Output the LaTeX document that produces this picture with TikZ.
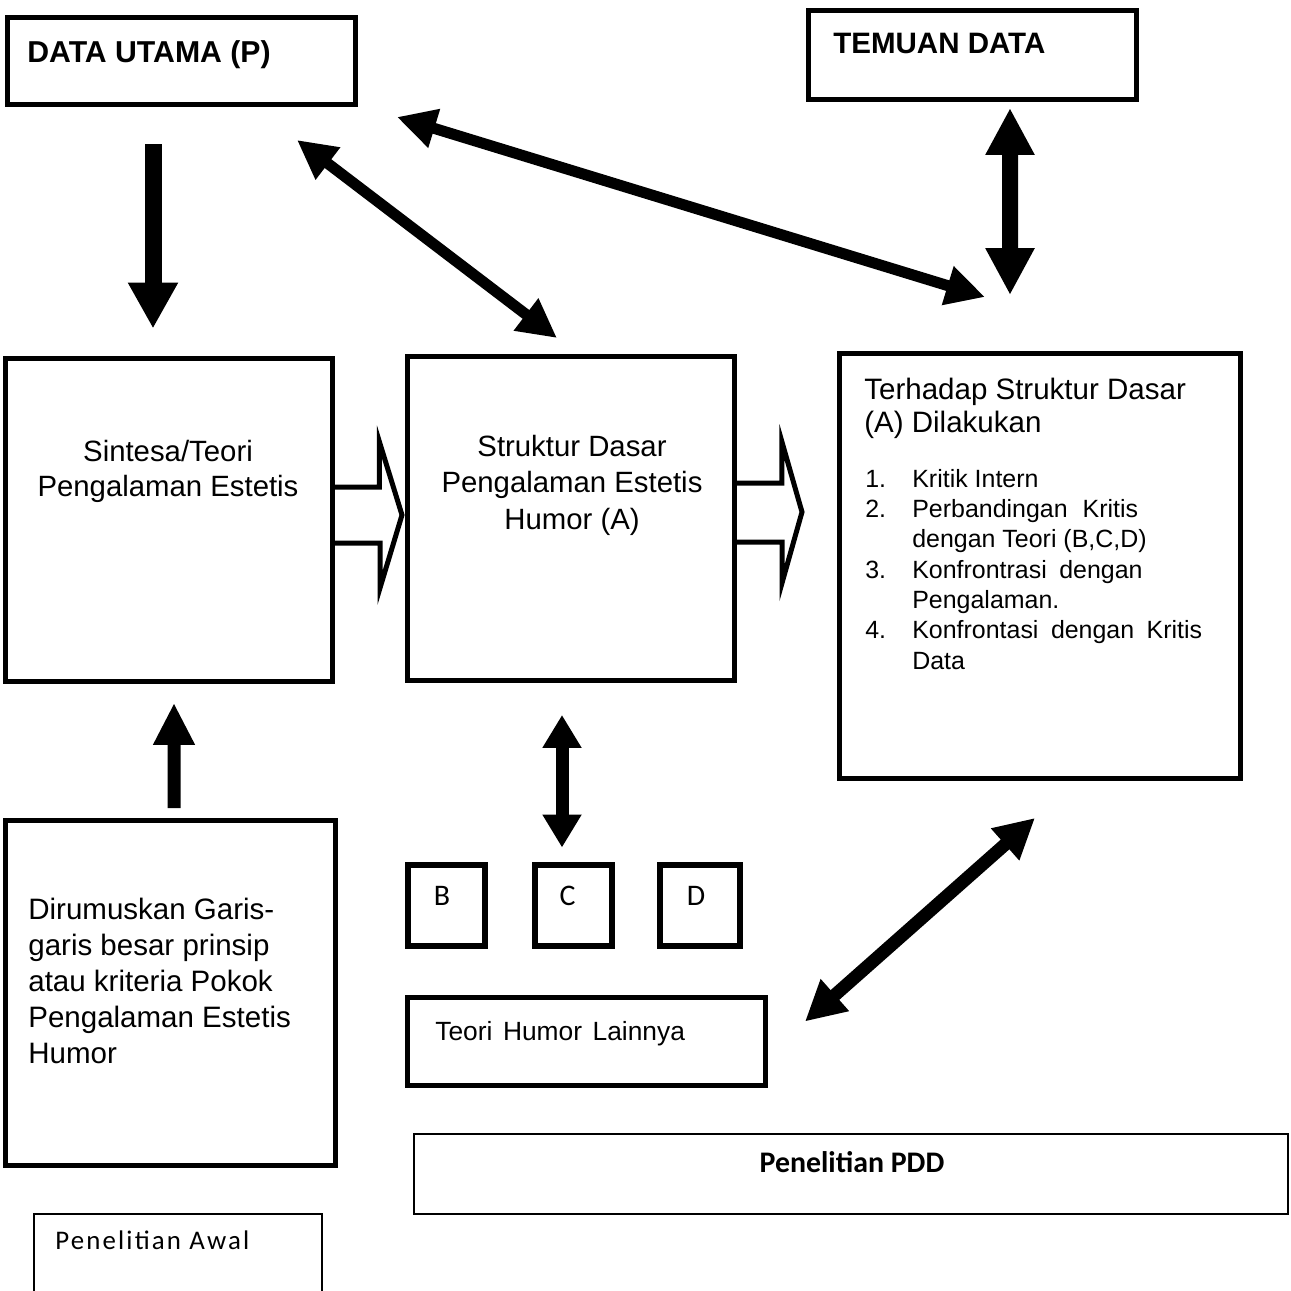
\documentclass[tikz,border=0pt]{standalone}
\usepackage{fontspec}
\setmainfont{Liberation Sans}
\newfontfamily\calib{Carlito}
\newfontfamily\calibwide[LetterSpace=8]{Carlito}
\usetikzlibrary{arrows.meta,calc}

\begin{document}
\begin{tikzpicture}[
  x=0.02cm, y=-0.02cm,
  box/.style={draw,line width=0.1cm,inner sep=0pt,outer sep=0pt},
  thinbox/.style={draw,line width=0.04cm,inner sep=0pt,outer sep=0pt},
  txt/.style={inner sep=0pt,font=\fontsize{16.7}{19.8}\selectfont},
  lbl/.style={inner sep=0pt,font=\calib\fontsize{17}{20}\selectfont},
  arr/.style n args={3}{line width=#1,-{Triangle[length=#2,width=#3]}},
  darr/.style n args={3}{line width=#1,{Triangle[length=#2,width=#3]}-{Triangle[length=#2,width=#3]}},
  hollow/.style={draw,line width=0.1cm,line join=miter}
]
\useasboundingbox (0,0) rectangle (1291,1291);
\fill[white] (0,0) rectangle (1291,1291);
\clip (0,0) rectangle (1291,1291);

% ---------- boxes
\node[box,minimum width=6.96cm,minimum height=1.74cm] (data) at (181.5,61) {};
\node[box,minimum width=6.56cm,minimum height=1.78cm] (temuan) at (972.5,55) {};
\node[box,minimum width=6.54cm,minimum height=6.46cm] (sint) at (169,520) {};
\node[box,minimum width=6.54cm,minimum height=6.48cm] (strk) at (571,518.5) {};
\node[box,minimum width=8.02cm,minimum height=8.5cm] (krit) at (1040,566) {};
\node[box,minimum width=6.6cm,minimum height=6.9cm] (rumus) at (170.5,993) {};
\node[box,minimum width=7.16cm,minimum height=1.76cm] (teori) at (586.5,1041.5) {};
\node[thinbox,minimum width=17.48cm,minimum height=1.6cm] (pdd) at (851,1174) {};
\node[thinbox,minimum width=5.76cm,minimum height=2.52cm] (awal) at (178,1277) {};
\foreach \nm/\x/\lx/\w in {B/446.5/442/1.54cm, C/573.5/567.5/1.54cm, D/700/696/1.6cm}{
  \node[box,line width=0.12cm,minimum width=\w,minimum height=1.62cm] (\nm) at (\x,905.5) {};
  \node[lbl,anchor=base] (l\nm) at (\lx,905) {\nm};
}

% ---------- texts
\node[txt,anchor=base west,font=\bfseries\fontsize{17.2}{20}\selectfont] (datat) at (27,63) {DATA UTAMA (P)};
\node[txt,anchor=base west,font=\bfseries\fontsize{16.8}{20}\selectfont] (temuant) at (833,54) {TEMUAN DATA};
\node[txt,anchor=north,align=center] (sintt) at (168,440) {Sintesa/Teori\\Pengalaman Estetis};
\node[txt,anchor=north,align=center,font=\fontsize{16.7}{20.7}\selectfont] (strkt) at (572,435)
  {Struktur Dasar\\Pengalaman Estetis\\Humor (A)};
\node[txt,anchor=north west,align=left,font=\fontsize{16.8}{18.7}\selectfont] (kritt) at (864,378)
  {Terhadap Struktur Dasar\\(A) Dilakukan};
\node[inner sep=0pt,anchor=base west,font=\fontsize{14.2}{17.3}\selectfont] (list) at (865,487) {%
  \begin{tabular}[t]{@{}p{0.94cm}@{}l@{}}
  1. & Kritik Intern\\
  2. & Perbandingan\hspace{0.6em}Kritis\\
     & dengan Teori (B,C,D)\\
  3. & Konfrontrasi\hspace{0.5em}dengan\\
     & Pengalaman.\\
  4. & Konfrontasi\hspace{0.5em}dengan\hspace{0.5em}Kritis\\
     & Data
  \end{tabular}};
\node[txt,anchor=north west,align=left,font=\fontsize{16.8}{20.4}\selectfont] (rumust) at (28,898)
  {Dirumuskan Garis-\\garis besar prinsip\\atau kriteria Pokok\\Pengalaman Estetis\\Humor};
\node[txt,anchor=base west,font=\fontsize{15}{18}\selectfont] (teorit) at (435,1040)
  {Teori\hspace{0.4em}Humor\hspace{0.4em}Lainnya};
\node[lbl,anchor=base,font=\calib\bfseries\fontsize{17}{20}\selectfont] (pddt) at (852,1172) {Penelitian PDD};
\node[lbl,anchor=base west,font=\calibwide\fontsize{15.3}{18}\selectfont] (awalt) at (55,1249) {Penelitian Awal};

% ---------- solid arrows
\draw[arr={0.34cm}{0.92cm}{0.94cm}] ($(data.south)+(-28.5,40)$) -- ($(sint.north)+(-16,-30)$);
\draw[darr={0.32cm}{0.94cm}{0.92cm}] ($(temuan.south)+(37.5,8.5)$) -- ($(krit.north)+(-30,-58.5)$);
\draw[darr={0.22cm}{0.78cm}{0.76cm}] ($(data.south east)+(-58.5,35.5)$) -- ($(strk.north)+(-14,-18.5)$);
\draw[darr={0.22cm}{0.78cm}{0.76cm}] ($(data.south east)+(41.5,12.5)$) -- ($(krit.north)+(-55,-56.5)$);
\draw[arr={0.26cm}{0.84cm}{0.78cm}] ($(rumus.north)+(3.5,-12.5)$) -- ($(sint.south)+(5,21.5)$);
\draw[darr={0.26cm}{0.66cm}{0.74cm}] ($(strk.south)+(-9,34.5)$) -- ($(C.north)+(-11.5,-17.5)$);
\draw[darr={0.26cm}{0.8cm}{0.8cm}] ($(krit.south)+(-5,39.5)$) -- ($(teori.east)+(39.5,-20)$);

% ---------- hollow arrows
\coordinate (tipa) at (402,515);
\coordinate (tipb) at (802,512);
\draw[hollow] ($(sint.east)+(0,-33)$) -- ++(47,0) -- ++(0,-45) -- (tipa) -- ++(-22,73) -- ++(0,-45) -- ++(-47,0);
\draw[hollow] ($(strk.east)+(0,-35.5)$) -- ++(47.5,0) -- ++(0,-41) -- (tipb) -- ++(-20,71) -- ++(0,-41) -- ++(-47.5,0);
\end{tikzpicture}
\end{document}
